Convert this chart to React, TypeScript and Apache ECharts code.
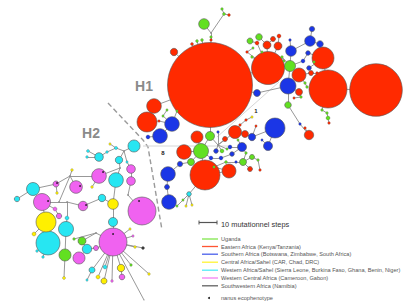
import React, { useEffect, useRef } from "react";
import * as echarts from "echarts";

const regionNames = [
  "Uganda",
  "Eastern Africa (Kenya/Tanzania)",
  "Southern Africa (Botswana, Zimbabwe, South Africa)",
  "Central Africa/Sahel (CAR, Chad, DRC)",
  "Western Africa/Sahel (Sierra Leone, Burkina Faso, Ghana, Benin, Niger)",
  "Western Central Africa (Cameroon, Gabon)",
  "Southwestern Africa (Namibia)",
];
const regionColors = ["#62e021", "#ff2a00", "#1b36e6", "#fff000", "#27e6f2", "#f062f0", "#3a3a3a"];
const junctionColor = "#8c8c8c";
const nanusColor = "#111111";
const scaleLabel = "10 mutationnel steps";
const nanusLabel = "nanus ecophenotype";

// haplotype: [id, x, y, radius, region]  region 0-6 = legend, 7 = median vector, 8 = nanus mark
type Hap = [string, number, number, number, number];

const h1Haplotypes: Hap[] = [
  ["R0", 210, 85, 42.5, 1], ["R1", 376, 90, 26.3, 1], ["R2", 328, 89, 19, 1], ["R3", 268, 68, 16.5, 1],
  ["R4", 323, 58, 11, 1], ["R5", 205, 175, 15, 1], ["R6", 154, 106, 7.3, 1], ["R7", 147, 122, 10, 1],
  ["R8", 184, 152, 7.3, 1], ["R9", 197, 137, 6, 1], ["R10", 235, 132, 6.5, 1], ["R11", 229, 171, 7, 1],
  ["R12", 299, 75, 7, 1], ["R13", 309, 135, 4.7, 1], ["R14", 174, 52, 3.7, 1], ["R15", 267, 45, 4, 1],
  ["R16", 278, 46, 4, 1], ["R17", 299, 92, 3.5, 1], ["R18", 245, 134, 3.5, 1], ["R19", 273, 39, 2.5, 1],
  ["R20", 279, 36, 2, 1], ["R21", 257, 43, 2, 1], ["R22", 250, 169, 2.5, 1], ["R23", 225, 139, 2.5, 1],
  ["R24", 311, 73, 2.5, 1], ["B0", 275, 128, 10, 2], ["B1", 288, 86, 8, 2], ["B2", 172, 124, 7.3, 2],
  ["B3", 160, 136, 7.3, 2], ["B4", 168, 174, 7.3, 2], ["B5", 169, 202, 7.3, 2], ["B6", 310, 41, 5.3, 2],
  ["B7", 291, 51, 5.3, 2], ["B8", 257, 93, 3.5, 2], ["B9", 242, 147, 4.5, 2], ["B10", 252, 137, 3.7, 2],
  ["B11", 268, 146, 4.5, 2], ["B12", 312, 29, 2.7, 2], ["B13", 320, 44, 3.3, 2], ["B14", 167, 187, 2.5, 2],
  ["B15", 180, 164, 2.7, 2], ["B16", 148, 137, 2, 2], ["B17", 308, 53, 2.3, 2], ["B18", 309, 68, 2.3, 2],
  ["B19", 216, 151, 2.3, 2], ["B20", 232, 154, 2.3, 2], ["B21", 221, 158, 2, 2], ["B22", 211, 158, 2, 2],
  ["B23", 230, 147, 2, 2], ["B24", 303, 61, 2, 2], ["G0", 204, 24, 5.3, 0], ["G1", 290, 66, 5.5, 0],
  ["G2", 288, 105, 3.3, 0], ["G3", 201, 151, 7.5, 0], ["G4", 210, 136, 4.5, 0], ["G5", 243, 162, 3.5, 0],
  ["G6", 252, 157, 2.5, 0], ["G7", 250, 41, 3, 0], ["G8", 259, 37, 3.3, 0], ["G9", 191, 162, 3.5, 0],
  ["G10", 328, 118, 2, 0], ["G11", 222, 151, 2, 0], ["Ch", 189, 194, 2.3, 4],
];

const h1Small: Hap[] = [
  ["t1", 211, 33, 0.8, 7], ["t2", 211, 37, 1.3, 0], ["t3", 211, 40, 1.3, 1], ["t4", 224, 14, 1.5, 0],
  ["t5", 229, 15, 1.4, 1], ["t6", 222, 9, 1.3, 0], ["t7", 192, 44, 1.5, 1], ["t8", 197, 41, 1.4, 0],
  ["t9", 202, 40, 1.4, 0], ["t10", 247, 52, 1.3, 1], ["t11", 252, 57, 1.3, 0], ["t12", 282, 57, 1.3, 0],
  ["t13", 284, 61, 1.2, 0], ["t14", 305, 83, 1.3, 0], ["t15", 307, 87, 1.3, 0], ["t16", 317, 73, 1.3, 1],
  ["t17", 322, 110, 1.3, 0], ["t18", 327, 113, 1.3, 0], ["t19", 329, 123, 1.3, 1], ["t20", 300, 124, 1.3, 2],
  ["t21", 305, 128, 1.3, 1], ["t22", 262, 52, 1.2, 0], ["t24", 314, 62, 1.3, 0], ["t25", 301, 97, 1.3, 0],
  ["t26", 294, 98, 1.2, 1], ["t27", 253, 48, 1.2, 0], ["t29", 290, 40, 1.3, 2], ["J1", 218, 145, 0.8, 7],
  ["t31", 240, 125, 1.3, 1], ["t32", 246, 120, 1.3, 1], ["t33", 252, 117, 1.2, 3], ["t34", 226, 162, 1.4, 0],
  ["t35", 236, 162, 1.3, 2], ["t36", 246, 153, 1.3, 0], ["t37", 258, 160, 1.3, 0], ["t38", 260, 170, 1.3, 1],
  ["t39", 214, 167, 1.3, 0], ["t40", 218, 132, 1.3, 2], ["t41", 227, 149, 1.2, 0], ["t42", 238, 140, 1.2, 0],
  ["t43", 256, 126, 1.2, 1], ["t44", 262, 140, 1.2, 2], ["t46", 183, 200, 1.2, 0], ["t47", 186, 206, 1.2, 3],
  ["t48", 192, 205, 1.2, 3], ["t49", 177, 206, 1.2, 0], ["t50", 167, 110, 1.2, 0], ["t51", 163, 116, 1.2, 0],
  ["t52", 159, 121, 1.2, 1], ["t53", 177, 111, 1.2, 0],
];

const h2Haplotypes: Hap[] = [
  ["C0", 134, 146, 6, 4], ["C1", 99, 157, 4.3, 4], ["C2", 119, 160, 3.7, 4], ["C3", 116, 180, 7.3, 4],
  ["M0", 99, 176, 7.3, 5], ["M1", 131, 169, 4.3, 5], ["M2", 131, 181, 4.3, 5], ["M3", 76, 187, 6.3, 5],
  ["M4", 56, 184, 3, 5], ["C4", 33, 189, 6.5, 4], ["C5", 17, 199, 2.7, 4], ["M5", 42, 202, 8.5, 5],
  ["C6", 102, 198, 3.7, 4], ["Y0", 113, 204, 5.3, 3], ["M6", 83, 206, 4.7, 5], ["M7", 142, 211, 14, 5],
  ["Y1", 46, 222, 10, 3], ["M8", 59, 216, 2.7, 5], ["M9", 55, 209, 2, 5], ["C7", 66, 229, 7.5, 4],
  ["C8", 113, 222, 4.5, 4], ["M10", 113, 242, 14, 5], ["C9", 48, 243, 12, 4], ["H0", 82, 241, 4, 0],
  ["C10", 87, 249, 4.7, 4], ["M11", 96, 248, 2.5, 5], ["Hg", 65, 255, 6, 0], ["M12", 79, 258, 6, 5],
  ["Y2", 121, 268, 3.7, 3], ["M13", 122, 277, 2.8, 5], ["Y3", 104, 281, 3, 3], ["C11", 92, 270, 3, 4],
  ["C12", 105, 267, 2, 4], ["Y4", 98, 277, 2, 3], ["C13", 67, 218, 2, 4], ["Y5", 34, 234, 2, 3],
  ["Y6", 64, 278, 1.5, 3],
];

const h2Small: Hap[] = [
  ["s1", 88, 151, 1.5, 4], ["s2", 87, 157, 1.3, 4], ["s3", 116, 148, 1.6, 4], ["s4", 107, 152, 1.3, 4],
  ["s5", 110, 144, 1.2, 3], ["s6", 127, 162, 1.2, 4], ["s7", 92, 187, 1.3, 3], ["s10", 72, 170, 1.3, 3],
  ["s11", 37, 251, 1.3, 4], ["s12", 43, 257, 1.3, 4], ["s13", 135, 247, 1.3, 3], ["s14", 143, 248, 1.5, 6],
  ["s15", 133, 236, 1.2, 5], ["s16", 149, 274, 1.3, 3], ["s17", 131, 265, 1.3, 0], ["s18", 144, 300, 0.5, 7],
  ["s19", 112, 281, 1.3, 5], ["s20", 87, 280, 1.2, 4], ["s21", 74, 239, 1.3, 0], ["s23", 57, 193, 1.3, 3],
  ["s24", 130, 229, 1.2, 3], ["Ja", 124, 151, 0.8, 7], ["Jb", 120, 168, 0.8, 7], ["Jc", 128, 195, 0.8, 7],
  ["Jd", 70, 176, 0.8, 7], ["Je", 59, 202, 0.8, 7], ["Jf", 67, 202, 0.8, 7], ["Jg", 96, 233, 0.8, 7],
];

const nanusMarks: Hap[] = [
  ["n1", 103, 172, 0.8, 8], ["n2", 80, 186, 0.8, 8], ["n3", 113, 234, 0.8, 8], ["n4", 139, 201, 0.8, 8],
  ["n5", 48, 201, 0.8, 8], ["n6", 86, 205, 0.8, 8], ["n7", 57, 183, 0.8, 8],
];

const h1Links: string[] = [
  "R0-R3", "R2-R1", "R2-R4", "R3-G1", "G1-R12", "G1-B7", "B7-B6", "B6-B12", "B6-B13", "B7-t29",
  "R3-R15", "R3-R16", "R15-R19", "R16-R20", "R3-R21", "R21-G7", "R15-G8", "R3-t10", "t10-t27", "R3-t11",
  "R3-t22", "G1-t12", "t12-t13", "G1-B1", "B1-R17", "R17-t25", "t25-t26", "B1-G2", "G2-t20", "t20-R13",
  "R13-t21", "B1-B8", "B8-R0", "R12-t14", "t14-t15", "R12-R24", "R24-t16", "G1-B24", "B24-B17", "B17-R4",
  "R4-B18", "R4-t24", "R2-t17", "t17-t18", "t18-G10", "G10-t19", "R0-R14", "R0-t3", "t3-t2", "t2-t1",
  "t1-G0", "t1-t4", "t4-t5", "t4-t6", "R0-t7", "R0-t8", "R0-t9", "R0-G4", "G4-G3", "G3-R9", "G3-R8",
  "G3-G9", "G9-B15", "B15-B4", "B4-B14", "B14-B5", "G3-R5", "R5-R11", "R5-Ch", "Ch-t46", "Ch-t47",
  "Ch-t48", "t46-t49", "R6-R7", "R7-t52", "t52-B2", "B2-B3", "B3-B16", "B2-t51", "t51-t50", "B2-t53",
  "t53-R0", "R6-R0", "G4-J1", "J1-B19", "J1-G11", "J1-R23", "J1-t40", "J1-t41", "t41-B23", "B23-B9",
  "B9-B20", "B20-B21", "B21-B22", "B22-G3", "J1-R10", "R10-R18", "R10-t31", "t31-t32", "t32-t33",
  "R18-B10", "B10-B0", "B10-t43", "B0-B11", "B11-t44", "B9-t42", "B9-t36", "t36-G5", "G5-G6", "G5-R22",
  "G6-t37", "t37-t38", "G5-t35", "t35-t34", "t34-t39", "t39-R11",
];

const h2Links: string[] = [
  "C0-Ja", "Ja-s3", "s3-s4", "s4-C1", "C1-s1", "C1-s2", "s3-s5", "Ja-C2", "C2-Jb", "Jb-C3", "Jb-M0",
  "Ja-s6", "s6-M1", "M1-M2", "M2-Jc", "Jc-M7", "C3-Y0", "C6-Y0", "Y0-C8", "C8-M10", "M6-C6", "M0-s7",
  "M0-Jd", "Jd-M3", "Jd-s10", "Jd-M4", "M4-C4", "M4-s23", "C4-C5", "Jd-Je", "Je-M5", "Je-Jf", "Jf-M6",
  "Jf-C13", "C13-C7", "M5-M9", "M9-M8", "M5-Y1", "Y1-C9", "C9-s11", "C9-s12", "Y1-Y5", "C7-Hg", "Hg-Y6",
  "M10-Jg", "Jg-H0", "Jg-s21", "H0-C10", "C10-M12", "C10-M11", "M10-M11", "M10-Y2", "Y2-M13", "M10-Y3",
  "M10-Y4", "M10-C11", "M10-C12", "M10-s13", "M10-s14", "M10-s15", "M10-s16", "M10-s17", "M10-s18",
  "M10-s19", "M10-s24", "C11-s20",
];

const boundaryLine: [number, number][] = [[108, 103], [143, 140], [148, 147], [162, 230]];
const h1h2Link: [number, number][] = [[143, 146], [232, 146]];
const innerLink: [number, number][] = [[217, 137], [279, 82]];
const stepLabels: [string, number, number][] = [["1", 256, 111], ["8", 163, 153]];
const groupLabels: [string, number, number][] = [["H1", 144, 86], ["H2", 91, 133]];
const legendRowsY = [239, 246.5, 254.2, 262.2, 270.2, 278, 285.8];
const nanusRowY = 298;

function colorOf(g: number): string {
  if (g === 7) return junctionColor;
  if (g === 8) return nanusColor;
  return regionColors[g];
}

export default function App() {
  const ref = useRef<HTMLDivElement>(null);
  useEffect(() => {
    if (!ref.current) return;
    const chart = echarts.init(ref.current, undefined, { renderer: "svg" });
    const all = [...h1Haplotypes, ...h1Small, ...h2Haplotypes, ...h2Small, ...nanusMarks]
      .slice()
      .sort((a, b) => b[3] - a[3]);
    const nodes = all.map(([id, x, y, r, g]) => ({
      name: id,
      value: [x, y],
      symbolSize: r * 2,
      itemStyle: {
        color: colorOf(g),
        borderColor: g >= 7 ? "transparent" : "#555",
        borderWidth: g >= 7 ? 0 : r > 2 ? 0.6 : 0.3,
      },
    }));
    const links = [...h1Links, ...h2Links].map((s) => {
      const [a, b] = s.split("-");
      return { source: a, target: b };
    });
    const graphic: any[] = [];
    groupLabels.forEach(([t, x, y]) =>
      graphic.push({
        type: "text", x, y,
        style: { text: t, fill: "#8a8a8a", font: "bold 14px 'Liberation Sans', Arial, sans-serif", align: "center", verticalAlign: "middle" },
      })
    );
    stepLabels.forEach(([t, x, y]) =>
      graphic.push({
        type: "text", x, y,
        style: { text: t, fill: "#222", font: "bold 6px 'Liberation Sans', Arial, sans-serif", align: "center", verticalAlign: "middle" },
      })
    );
    // scale bar
    graphic.push({ type: "line", shape: { x1: 199, y1: 222.5, x2: 217, y2: 222.5 }, style: { stroke: "#555", lineWidth: 1.2 } });
    graphic.push({ type: "line", shape: { x1: 199, y1: 220.5, x2: 199, y2: 224.5 }, style: { stroke: "#555", lineWidth: 1 } });
    graphic.push({ type: "line", shape: { x1: 217, y1: 220.5, x2: 217, y2: 224.5 }, style: { stroke: "#555", lineWidth: 1 } });
    graphic.push({
      type: "text", x: 221, y: 224,
      style: { text: scaleLabel, fill: "#333", font: "7.4px 'Liberation Sans', Arial, sans-serif", verticalAlign: "middle" },
    });
    regionNames.forEach((n, i) => {
      const y = legendRowsY[i];
      graphic.push({ type: "line", shape: { x1: 202, y1: y, x2: 218, y2: y }, style: { stroke: regionColors[i], lineWidth: 1.3, opacity: 0.8 } });
      graphic.push({
        type: "text", x: 221, y,
        style: { text: n, fill: "#555", font: "5.6px 'Liberation Sans', Arial, sans-serif", verticalAlign: "middle" },
      });
    });
    graphic.push({ type: "circle", shape: { cx: 209, cy: nanusRowY, r: 1 }, style: { fill: "#222" } });
    graphic.push({
      type: "text", x: 221, y: nanusRowY,
      style: { text: nanusLabel, fill: "#555", font: "5.6px 'Liberation Sans', Arial, sans-serif", verticalAlign: "middle" },
    });

    chart.setOption({
      animation: false,
      backgroundColor: "#ffffff",
      grid: { left: 0, right: 0, top: 0, bottom: 0 },
      xAxis: { type: "value", min: 0, max: 406, show: false },
      yAxis: { type: "value", min: 0, max: 301, inverse: true, show: false },
      series: [
        {
          type: "line", data: boundaryLine, symbol: "none", silent: true,
          lineStyle: { color: "#9a9a9a", width: 1.4, type: [5, 3] }, z: 1,
        },
        {
          type: "line", data: h1h2Link, symbol: "none", silent: true,
          lineStyle: { color: "#d6d6d6", width: 1 }, z: 1,
        },
        {
          type: "line", data: innerLink, symbol: "none", silent: true,
          lineStyle: { color: "#d6d6d6", width: 1 }, z: 1,
        },
        {
          type: "graph", coordinateSystem: "cartesian2d", layout: "none", silent: true,
          symbol: "circle", data: nodes, links,
          lineStyle: { color: "#8c8c8c", width: 0.9, opacity: 1, curveness: 0 },
          label: { show: false }, z: 3,
        },
      ],
      graphic,
    });
    return () => chart.dispose();
  }, []);
  return <div ref={ref} style={{ position: "absolute", left: 0, top: 0, width: 406, height: 301 }} />;
}
